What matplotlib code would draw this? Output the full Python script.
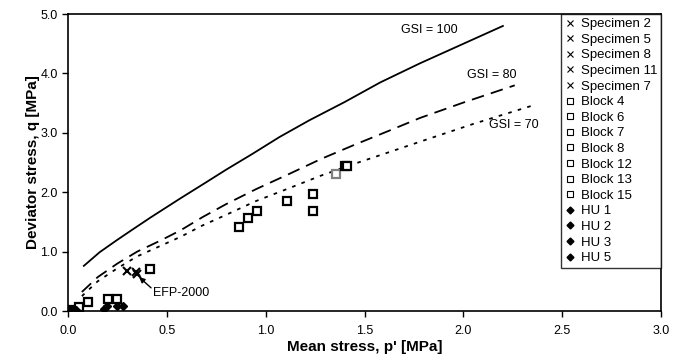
import matplotlib
matplotlib.use("Agg")
import matplotlib.pyplot as plt
from matplotlib.lines import Line2D

plt.rcParams['font.family'] = ['Liberation Sans', 'DejaVu Sans']

# GSI envelope curves
gsi100_p = [0.08, 0.16, 0.25, 0.33, 0.42, 0.57, 0.70, 0.80, 0.93, 1.07, 1.22, 1.40, 1.58, 1.78, 2.00, 2.20]
gsi100_q = [0.76, 0.99, 1.20, 1.38, 1.58, 1.90, 2.17, 2.38, 2.64, 2.93, 3.21, 3.52, 3.85, 4.17, 4.50, 4.80]
gsi80_p = [0.07, 0.15, 0.25, 0.35, 0.47, 0.57, 0.68, 0.80, 0.95, 1.12, 1.28, 1.45, 1.62, 1.78, 2.00, 2.26]
gsi80_q = [0.32, 0.57, 0.80, 1.00, 1.19, 1.36, 1.58, 1.80, 2.05, 2.31, 2.56, 2.80, 3.03, 3.25, 3.51, 3.80]
gsi70_p = [0.07, 0.15, 0.25, 0.35, 0.47, 0.57, 0.68, 0.80, 0.95, 1.12, 1.28, 1.45, 1.62, 1.78, 2.05, 2.36]
gsi70_q = [0.25, 0.50, 0.72, 0.92, 1.10, 1.25, 1.44, 1.62, 1.85, 2.07, 2.28, 2.48, 2.67, 2.85, 3.15, 3.47]

# Specimens (crosses)
spec_names = ["Specimen 2", "Specimen 5", "Specimen 8", "Specimen 11", "Specimen 7"]
spec_p = [[0.30], [0.35], [0.345], [0.02], [0.01]]
spec_q = [[0.67], [0.63], [0.655], [0.01], [0.02]]

# Blocks (squares)
block_names = ["Block 4", "Block 6", "Block 7", "Block 8", "Block 12", "Block 13", "Block 15"]
block_p = [[0.02, 0.055, 0.415], [0.10, 0.20], [0.25, 0.865], [0.91, 0.955],
           [1.11, 1.24], [1.355], [1.24, 1.40, 1.41]]
block_q = [[0.02, 0.07, 0.71], [0.15, 0.20], [0.20, 1.42], [1.57, 1.68],
           [1.85, 1.97], [2.31], [1.68, 2.45, 2.44]]
block_colors = ["black", "black", "black", "black", "black", "#808080", "black"]

# HU (diamonds)
hu_names = ["HU 1", "HU 2", "HU 3", "HU 5"]
hu_p = [[0.01, 0.18], [0.03, 0.195], [0.02, 0.25], [0.04, 0.28]]
hu_q = [[0.01, 0.03], [0.02, 0.08], [0.0, 0.08], [0.01, 0.08]]

fig = plt.figure(figsize=(6.85, 3.61), dpi=100)
ax = fig.add_axes([0.0993, 0.1385, 0.8657, 0.8225])

ax.plot(gsi100_p, gsi100_q, color="black", lw=1.3, linestyle="-")
ax.plot(gsi80_p, gsi80_q, color="black", lw=1.3, linestyle=(0, (7, 4)))
ax.plot(gsi70_p, gsi70_q, color="black", lw=1.3, linestyle=(0, (2, 3.5)))

handles = []
for name, p, q in zip(spec_names, spec_p, spec_q):
    ax.plot(p, q, linestyle="none", marker="x", ms=6, mew=1.5, color="black")
    handles.append(Line2D([], [], linestyle="none", marker="x", ms=4, mew=0.8,
                          color="black", label=name))
for name, p, q, c in zip(block_names, block_p, block_q, block_colors):
    ax.plot(p, q, linestyle="none", marker="s", ms=6, mew=1.6, mfc="white", mec=c)
    handles.append(Line2D([], [], linestyle="none", marker="s", ms=4.5, mew=0.8,
                          mfc="white", mec="black", label=name))
for name, p, q in zip(hu_names, hu_p, hu_q):
    ax.plot(p, q, linestyle="none", marker="D", ms=4.5, color="black")
    handles.append(Line2D([], [], linestyle="none", marker="D", ms=3.5,
                          color="black", label=name))

ax.text(1.685, 4.73, "GSI = 100", fontsize=9, va="center", ha="left")
ax.text(2.02, 3.97, "GSI = 80", fontsize=9, va="center", ha="left")
ax.text(2.13, 3.13, "GSI = 70", fontsize=9, va="center", ha="left")
ax.text(0.43, 0.31, "EFP-2000", fontsize=9, va="center", ha="left")
ax.annotate("", xy=(0.36, 0.57), xytext=(0.42, 0.39),
            arrowprops=dict(arrowstyle="-|>", color="black", lw=1, mutation_scale=8,
                            shrinkA=0, shrinkB=0))

ax.set_xlim(0, 3.0)
ax.set_ylim(0, 5.0)
ax.set_xticks([0, 0.5, 1.0, 1.5, 2.0, 2.5, 3.0])
ax.set_yticks([0, 1, 2, 3, 4, 5])
ax.set_xticklabels(["0.0", "0.5", "1.0", "1.5", "2.0", "2.5", "3.0"], fontsize=9)
ax.set_yticklabels(["0.0", "1.0", "2.0", "3.0", "4.0", "5.0"], fontsize=9)
ax.tick_params(direction="out", length=4, width=1)
ax.tick_params(axis="x", pad=6)
for s in ax.spines.values():
    s.set_linewidth(1.2)
ax.set_xlabel("Mean stress, p' [MPa]", fontsize=11, fontweight="bold", labelpad=2)
ax.set_ylabel("Deviator stress, q [MPa]", fontsize=11, fontweight="bold", labelpad=0)

leg = ax.legend(handles=handles, loc="upper right", bbox_to_anchor=(1, 1),
                borderaxespad=0, fontsize=9.5, frameon=True, fancybox=False,
                edgecolor="black", handlelength=0.7,
                handletextpad=0.45, labelspacing=0.255, borderpad=0.3)
leg.get_frame().set_linewidth(1.0)

fig.savefig("out.png", dpi=100)
